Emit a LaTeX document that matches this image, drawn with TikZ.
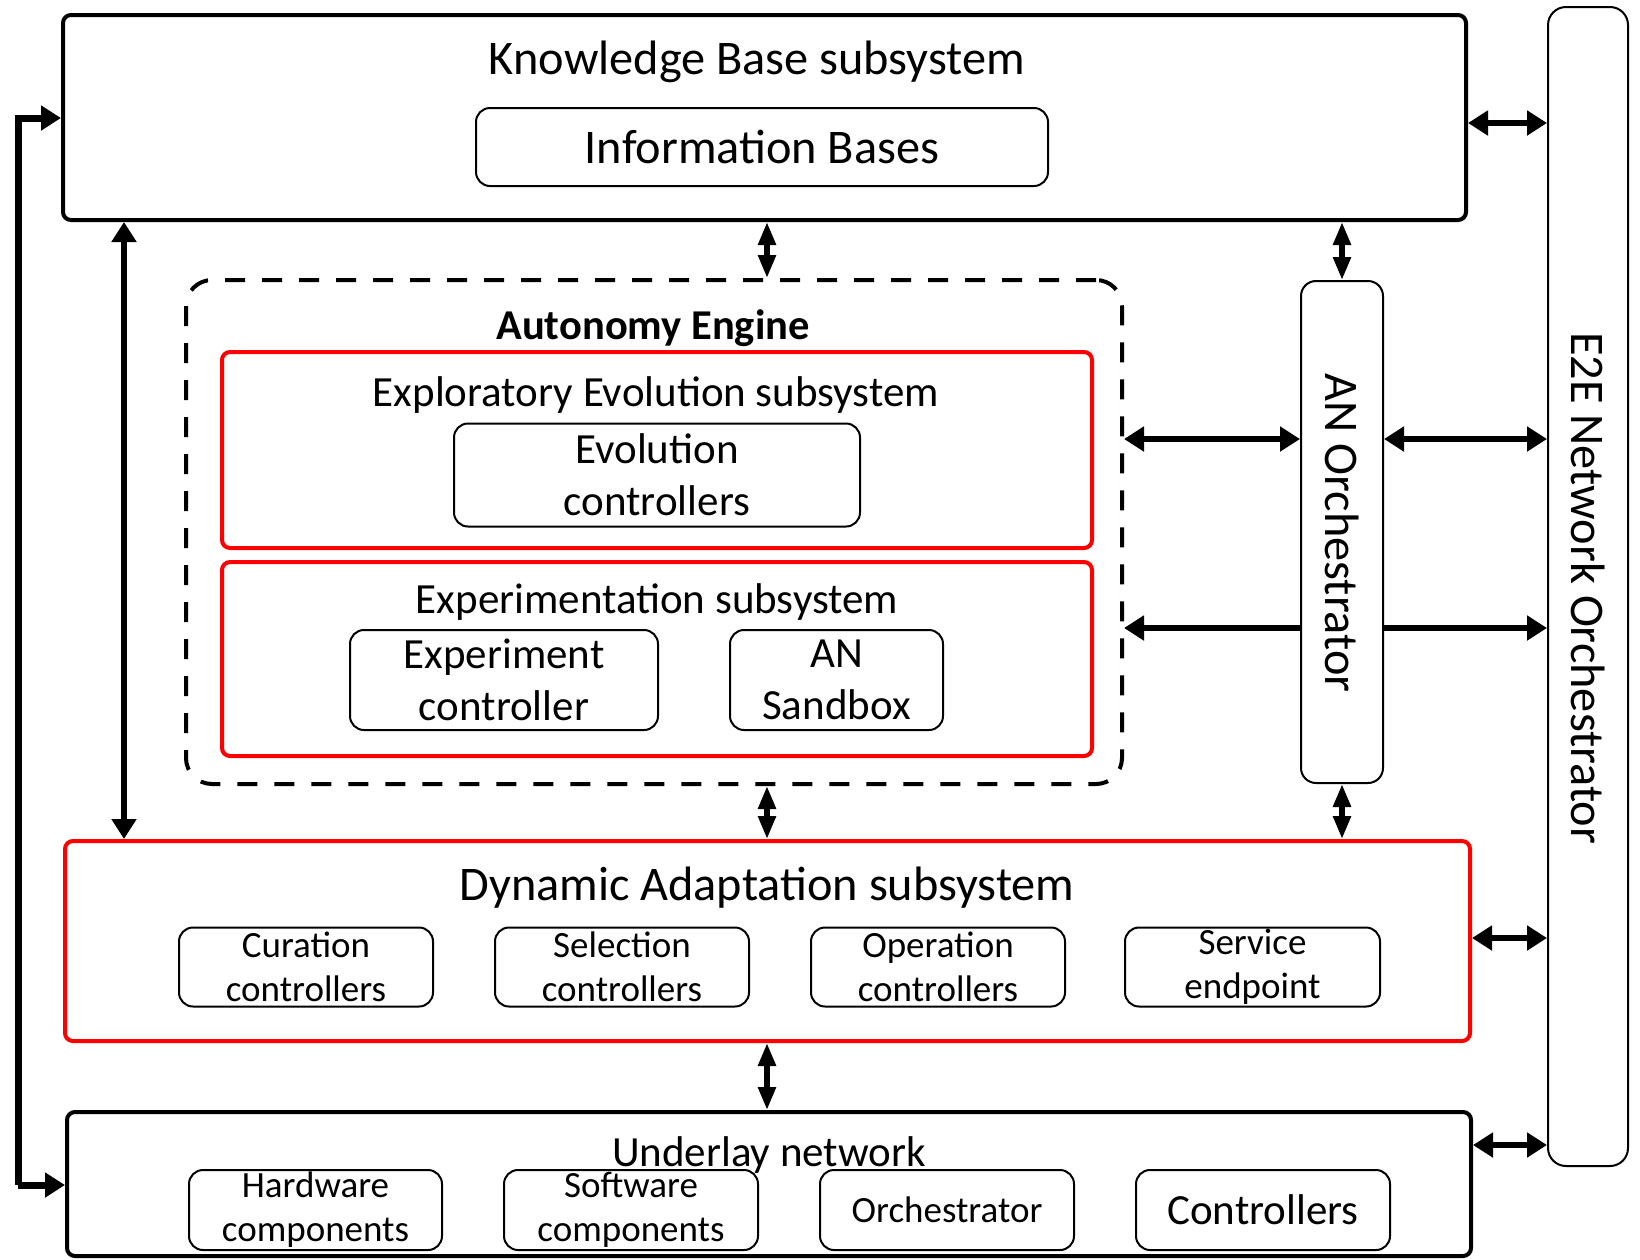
\documentclass[tikz,border=0pt]{standalone}
\usepackage{fontspec}
\setmainfont{Carlito}
\usetikzlibrary{arrows.meta}
\definecolor{redbox}{RGB}{255,0,0}
\tikzset{
  thick box/.style={draw=black, line width=4pt, rounded corners=8pt, inner sep=0pt},
  red box/.style={draw=redbox, line width=4pt, rounded corners=8pt, inner sep=0pt},
  thin box/.style={draw=black, line width=2pt, rounded corners=14pt, inner sep=0pt, align=center},
  dash box/.style={draw=black, line width=4pt, dash pattern=on 20pt off 17pt, rounded corners=26pt, inner sep=0pt},
  ftA/.style={font=\fontsize{48.3}{56}\selectfont},
  ftB/.style={font=\fontsize{43}{52}\selectfont},
  ftC/.style={font=\fontsize{37}{44}\selectfont},
  lbl/.style={inner sep=0pt, align=center},
  arrh/.style={line width=6.5pt, {Triangle[length=20pt,width=24pt]}-{Triangle[length=20pt,width=24pt]}},
  arrv/.style={line width=5.5pt, {Triangle[length=23pt,width=17pt]}-{Triangle[length=23pt,width=17pt]}},
  arrl/.style={line width=7pt, -{Triangle[length=20pt,width=24pt]}},
  arrr/.style={line width=6.5pt, -{Triangle[length=20pt,width=24pt]}},
}
\begin{document}
\begin{tikzpicture}[x=1pt,y=-1pt]
\useasboundingbox (0,0) rectangle (1640,1259);
% Knowledge base
\node[thick box, minimum width=1403pt, minimum height=205pt] (kb) at (764.5,117.5) {};
\node[lbl, ftA] (kbt) at (757,62) {Knowledge Base subsystem};
\node[thin box, ftA, minimum width=572pt, minimum height=78pt] (ib) at (762,147) {Information Bases};
% E2E
\node[draw=black, line width=2pt, rounded corners=18pt, minimum width=80pt, minimum height=1159pt, inner sep=0pt] (e2e) at (1588,586.5) {};
\node[lbl, ftA, rotate=-90] (e2et) at (1588,588) {E2E Network Orchestrator};
% Autonomy engine
\node[dash box, minimum width=936pt, minimum height=504pt] (ae) at (654,532) {};
\node[lbl, font=\fontsize{42.5}{52}\selectfont\bfseries] (aet) at (653,328) {Autonomy Engine};
\node[red box, minimum width=870pt, minimum height=196pt] (ees) at (657,450) {};
\node[lbl, ftB] (eest) at (656,395) {Exploratory Evolution subsystem};
\node[thin box, ftB, minimum width=406pt, minimum height=103pt] (evo) at (657,475) {Evolution\\controllers};
\node[red box, minimum width=870pt, minimum height=194pt] (exs) at (657,659) {};
\node[lbl, ftB] (exst) at (657,602) {Experimentation subsystem};
\node[thin box, ftB, minimum width=308pt, minimum height=100pt] (expc) at (504,680) {Experiment\\controller};
\node[thin box, ftB, minimum width=213pt, minimum height=100pt] (sand) at (836.5,680) {AN\\Sandbox};
% AN orchestrator
\node[draw=black, line width=2pt, rounded corners=15pt, minimum width=82pt, minimum height=502pt, inner sep=0pt] (ano) at (1342,532) {};
\node[lbl, ftA, rotate=-90] (anot) at (1342,533) {AN Orchestrator};
% Dynamic adaptation
\node[red box, minimum width=1405pt, minimum height=200pt] (da) at (767.5,941) {};
\node[lbl, ftA] (dat) at (767,888) {Dynamic Adaptation subsystem};
\node[thin box, ftC, minimum width=254pt, minimum height=79pt] (cur) at (306,967) {Curation\\controllers};
\node[thin box, ftC, minimum width=254pt, minimum height=79pt] (sel) at (622,967) {Selection\\controllers};
\node[thin box, ftC, minimum width=254pt, minimum height=79pt] (op) at (938,967) {Operation\\controllers};
\node[thin box, ftC, minimum width=255pt, minimum height=79pt] (svc) at (1252.5,967) {Service\\endpoint};
% Underlay
\node[thick box, minimum width=1404pt, minimum height=144pt] (ul) at (769,1184) {};
\node[lbl, ftB] (ult) at (769,1155) {Underlay network};
\node[thin box, ftC, minimum width=253pt, minimum height=80pt] (hw) at (315.5,1210) {Hardware\\components};
\node[thin box, ftC, minimum width=254pt, minimum height=80pt] (sw) at (631,1210) {Software\\components};
\node[thin box, ftC, minimum width=254pt, minimum height=80pt] (orc) at (947,1210) {Orchestrator};
\node[thin box, ftB, minimum width=254pt, minimum height=80pt] (ctl) at (1263,1210) {Controllers};
% helper coordinates
\coordinate (loopx) at (18,0);
\coordinate (lx) at (124,0);
\coordinate (mx) at (767,0);
\coordinate (ox) at (1342,0);
\coordinate (y1) at (0,123);
\coordinate (y2) at (0,439);
\coordinate (y3) at (0,628);
\coordinate (y4) at (0,938);
\coordinate (y5) at (0,1145);
\coordinate (ytop) at (0,118);
\coordinate (ybot) at (0,1185);
% arrows
\draw[arrl] (kb.west |- ybot -| loopx) -- (kb.west |- ytop -| loopx) -- (kb.west |- ytop);
\draw[arrl] (ul.west |- ybot -| loopx) -- (ul.west |- ybot);
\draw[arrh] (kb.south -| lx) -- (da.north -| lx);
\draw[arrv] (kb.south -| mx) -- (ae.north -| mx);
\draw[arrv] (kb.south -| ox) -- (ano.north);
\draw[arrv] (ae.south -| mx) -- (da.north -| mx);
\draw[arrv] (ano.south) -- (da.north -| ox);
\draw[arrv] (da.south -| mx) -- (ul.north -| mx);
\draw[arrh] (ae.east |- y2) -- (ano.west |- y2);
\draw[arrh] (ano.east |- y2) -- (e2e.west |- y2);
\draw[arrr] (ano.west |- y3) -- (ae.east |- y3);
\draw[arrr] (ano.east |- y3) -- (e2e.west |- y3);
\draw[arrh] (kb.east |- y1) -- (e2e.west |- y1);
\draw[arrh] (da.east |- y4) -- (e2e.west |- y4);
\draw[arrh] (ul.east |- y5) -- (e2e.west |- y5);
\end{tikzpicture}
\end{document}
